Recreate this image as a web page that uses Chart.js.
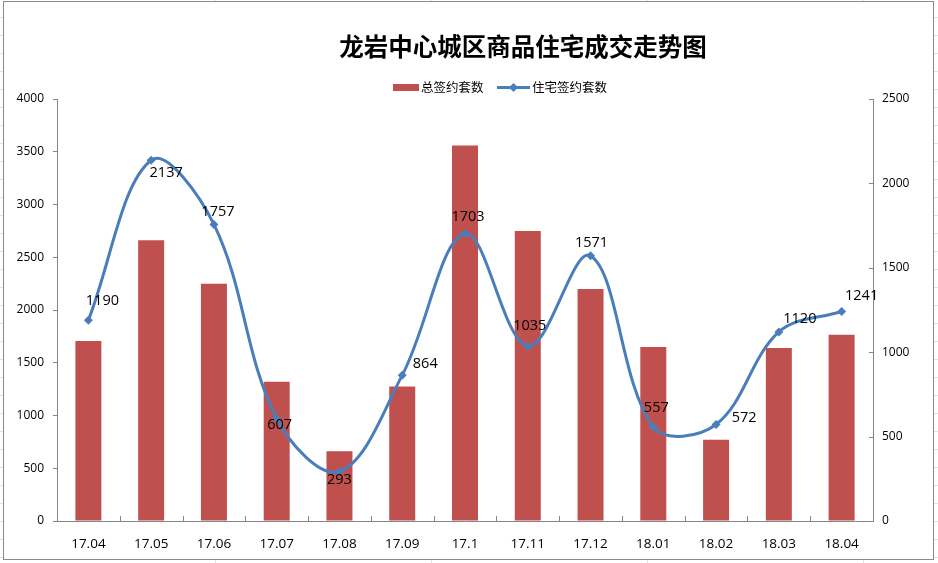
<!DOCTYPE html>
<html><head><meta charset="utf-8">
<script src="https://cdn.jsdelivr.net/npm/chart.js@4/dist/chart.umd.min.js"></script>
<style>
html,body{margin:0;padding:0;width:938px;height:563px;overflow:hidden;background:#fff;}
#bg{position:absolute;left:0;top:0;width:938px;height:563px;
 background-image:repeating-linear-gradient(to bottom, transparent 0 17px, #e2e3e4 17px 18px),
 repeating-linear-gradient(to right, transparent 0 215px, #e2e3e4 215px 216px);}
#box{position:absolute;left:3px;top:1px;width:929px;height:557px;border:1px solid #8a8a8a;background:#fff;}
#wrap{position:absolute;left:0;top:0;width:938px;height:563px;}
</style></head><body>
<div id="bg"></div><div id="box"></div>
<div id="wrap"><canvas id="c" width="938" height="563"></canvas></div>
<script>
const categories = ['17.04','17.05','17.06','17.07','17.08','17.09','17.1','17.11','17.12','18.01','18.02','18.03','18.04'];
const totalSigned = [1705, 2660, 2250, 1320, 660, 1275, 3560, 2750, 2200, 1650, 770, 1640, 1765];
const residentialSigned = [1190, 2137, 1757, 607, 293, 864, 1703, 1035, 1571, 557, 572, 1120, 1241];
const leftTicks = [0, 500, 1000, 1500, 2000, 2500, 3000, 3500, 4000];
const rightTicks = [0, 500, 1000, 1500, 2000, 2500];
const titleText = '龙岩中心城区商品住宅成交走势图';
const seriesNames = ['总签约套数', '住宅签约套数'];

const RED = '#C0504D', BLUE = '#4A7EBB', AXIS = '#868686';
const labelOffsets = [[14,-19],[15,13],[4,-13],[3,6],[0,8],[23,-11],[3,-17],[2,-20],[1,-13],[3,-19],[28,-7],[21,-13],[20,-16]];

const decor = {
  id: 'decor',
  afterDraw(chart) {
    const ctx = chart.ctx;
    ctx.save();
    // title
    ctx.fillStyle = '#000';
    ctx.font = 'bold 24.5px "Noto Sans CJK SC"';
    ctx.textAlign = 'center'; ctx.textBaseline = 'middle';
    ctx.fillText(titleText, 523, 47);
    // legend
    ctx.font = '12.5px "Noto Sans CJK SC"';
    ctx.textAlign = 'left';
    ctx.fillStyle = RED; ctx.fillRect(393, 84, 26, 7);
    ctx.fillStyle = '#000'; ctx.fillText(seriesNames[0], 421, 87);
    ctx.strokeStyle = BLUE; ctx.lineWidth = 3;
    ctx.beginPath(); ctx.moveTo(497, 87.5); ctx.lineTo(530, 87.5); ctx.stroke();
    ctx.fillStyle = BLUE;
    ctx.beginPath(); ctx.moveTo(513.5, 83); ctx.lineTo(518, 87.5); ctx.lineTo(513.5, 92); ctx.lineTo(509, 87.5); ctx.closePath(); ctx.fill();
    ctx.fillStyle = '#000'; ctx.fillText(seriesNames[1], 532, 87);
    // inner ticks on x axis and right axis
    const xs = chart.scales.x, yr = chart.scales.y1;
    ctx.strokeStyle = AXIS; ctx.lineWidth = 1;
    ctx.beginPath();
    for (let i = 1; i < categories.length; i++) {
      const px = Math.round((xs.getPixelForValue(i - 1) + xs.getPixelForValue(i)) / 2) + 0.5;
      ctx.moveTo(px, xs.top); ctx.lineTo(px, xs.top - 5);
    }
    rightTicks.forEach(v => {
      const py = Math.round(yr.getPixelForValue(v)) + 0.5;
      ctx.moveTo(yr.left, py); ctx.lineTo(yr.left - 4, py);
    });
    ctx.stroke();
    // data labels
    const meta = chart.getDatasetMeta(0);
    ctx.font = '14.5px "Open Sans"';
    ctx.fillStyle = '#000';
    ctx.textAlign = 'center'; ctx.textBaseline = 'middle';
    meta.data.forEach((pt, i) => {
      const o = labelOffsets[i];
      ctx.fillText(String(residentialSigned[i]), pt.x + o[0], pt.y + o[1]);
    });
    ctx.restore();
  }
};

new Chart(document.getElementById('c'), {
  data: {
    labels: categories,
    datasets: [
      {
        type: 'line', label: seriesNames[1], data: residentialSigned, yAxisID: 'y1', order: 0,
        borderColor: BLUE, backgroundColor: BLUE, borderWidth: 3, tension: 0.36,
        pointStyle: 'rectRot', pointRadius: 4.5, pointBorderWidth: 0, pointBackgroundColor: BLUE
      },
      {
        type: 'bar', label: seriesNames[0], data: totalSigned, yAxisID: 'y', order: 1,
        backgroundColor: RED, barPercentage: 0.414, categoryPercentage: 1.0
      }
    ]
  },
  options: {
    responsive: false, animation: false, devicePixelRatio: 1,
    layout: { padding: { top: 99, left: 0, right: 0, bottom: 0 } },
    plugins: { legend: { display: false }, title: { display: false }, tooltip: { enabled: false } },
    scales: {
      x: {
        type: 'category', offset: true,
        grid: { display: false, drawTicks: false },
        border: { display: true, color: AXIS, width: 1 },
        ticks: { color: '#000', font: { family: 'Open Sans', size: 13.5 }, padding: 15, maxRotation: 0, autoSkip: false },
        afterFit(s) { s.height = 42; }
      },
      y: {
        position: 'left', min: 0, max: 4000,
        afterBuildTicks(s) { s.ticks = leftTicks.map(v => ({ value: v })); },
        grid: { drawOnChartArea: false, drawTicks: true, tickLength: 4, color: AXIS },
        border: { display: true, color: AXIS, width: 1 },
        ticks: { color: '#000', font: { family: 'Open Sans', size: 12 }, padding: 9, callback: v => String(v) },
        afterFit(s) { s.width = 57; }
      },
      y1: {
        position: 'right', min: 0, max: 2500,
        afterBuildTicks(s) { s.ticks = rightTicks.map(v => ({ value: v })); },
        grid: { drawOnChartArea: false, drawTicks: false },
        border: { display: true, color: AXIS, width: 1 },
        ticks: { color: '#000', font: { family: 'Open Sans', size: 12 }, padding: 9, callback: v => String(v) },
        afterFit(s) { s.width = 65; }
      }
    }
  },
  plugins: [decor]
});
</script>
</body></html>
